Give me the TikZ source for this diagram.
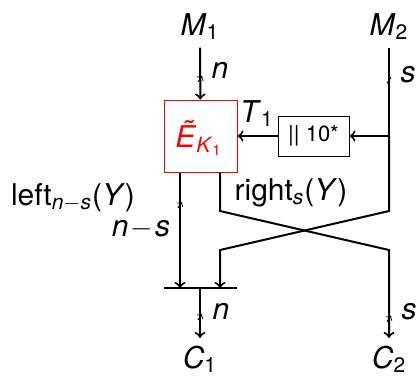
\documentclass[tikz,border=0pt]{standalone}
\usepackage{fontspec}
\setmainfont{TeX Gyre Heros}
\newcommand\mi[1]{\textit{#1}}
\newcommand\sub[1]{\textsubscript{#1}}
\begin{document}
\begin{tikzpicture}[x=0.5pt,y=-0.5pt,line width=1pt,>={To[scale=1.3]},
  font=\fontsize{15}{18}\selectfont,
  bustick/.pic={\draw[line width=0.5pt] (-2,3) -- (2,-3);},
  thinbox/.style={draw,line width=0.5pt},
  lbl/.style={anchor=base,inner sep=0pt}]
\useasboundingbox (0,0) rectangle (416,377);
\node[anchor=base] (m1) at (200,35) {\mi{M}\sub{1}};
\node[anchor=base] (m2) at (389,35) {\mi{M}\sub{2}};
\node[thinbox, draw=red, minimum width=36.5pt, minimum height=36pt] (enc) at (200.5,136) {};
\node[lbl, text=red] (enclbl) at (199,147) {\mi{Ẽ}\sub{\mi{K}\sub{1}}};
\node[thinbox, minimum width=35.5pt, minimum height=20pt, font=\fontsize{11}{13}\selectfont] (pad) at (313.5,136) {|| 10*};
\node[anchor=base] (c1) at (200,368) {\mi{C}\sub{1}};
\node[anchor=base] (c2) at (389,368) {\mi{C}\sub{2}};
\node[lbl] (lft) at (73,205) {left\sub{\mi{n}$-$\mi{s}}(\mi{Y})};
\node[lbl] (rgt) at (291,200) {right\sub{\mi{s}}(\mi{Y})};
\node[lbl] (tlbl) at (257,122) {\mi{T}\sub{1}};
\node[lbl] (nslbl) at (141,236) {\mi{n}\kern1pt$-$\kern1pt\mi{s}};
\node[lbl] (n1lbl) at (220,78) {\mi{n}};
\node[lbl] (s1lbl) at (408,82) {\mi{s}};
\node[lbl] (n2lbl) at (221,319) {\mi{n}};
\node[lbl] (s2lbl) at (409,319) {\mi{s}};
\coordinate (split) at (389,136);
\coordinate (ra) at (220,211);
\coordinate (rb) at (389,250);
\coordinate (la) at (389,211);
\coordinate (lb) at (220,250);
\coordinate (in1) at (180,288);
\coordinate (in2) at (220,288);
\coordinate (bar1) at (164,288);
\coordinate (bar2) at (237,288);
\coordinate (join) at (200,288);
\draw[->] (m1) -- (enc) pic[pos=.6]{bustick};
\draw (m2) -- (split) pic[pos=.37]{bustick};
\draw[->] (split) -- (pad);
\draw[->] (pad) -- (enc);
\draw[->] (split) -- (la) -- (lb) -- (in2);
\draw[->] (enc.south -| in1) -- (in1) pic[pos=.28]{bustick};
\draw[->] (enc.south -| ra) -- (ra) -- (rb) -- (c2) pic[pos=.78]{bustick};
\draw (bar1) -- (bar2);
\draw[->] (join) -- (c1) pic[pos=.58]{bustick};
\end{tikzpicture}
\end{document}
